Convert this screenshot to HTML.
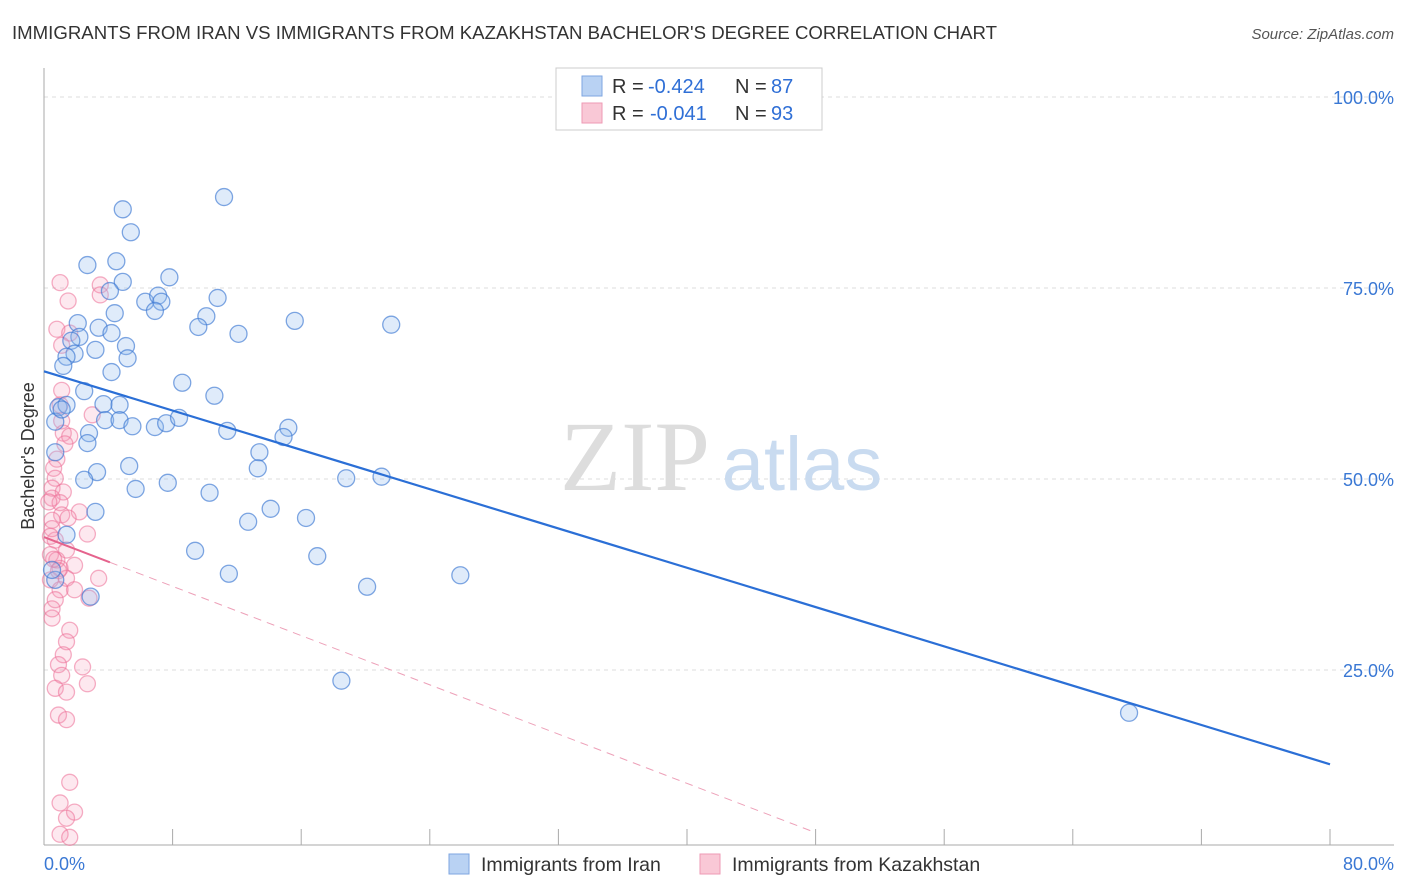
<!DOCTYPE html>
<html><head><meta charset="utf-8"><style>
body{margin:0;background:#fff;font-family:"Liberation Sans",sans-serif;}
svg{display:block}
</style></head><body>
<svg id="chart" width="1406" height="892">
<text x="12" y="39" font-size="18" fill="#333" textLength="985" lengthAdjust="spacingAndGlyphs">IMMIGRANTS FROM IRAN VS IMMIGRANTS FROM KAZAKHSTAN BACHELOR'S DEGREE CORRELATION CHART</text>
<text x="1394" y="39" font-size="15" fill="#555" text-anchor="end" font-style="italic">Source: ZipAtlas.com</text>
<g id="grid"></g>
<text x="635" y="490" font-size="100" fill="#ddd" text-anchor="middle" font-family="Liberation Serif,serif">ZIP</text>
<text x="802" y="490" font-size="76" fill="#c9dbf0" text-anchor="middle">atlas</text>
<g id="marks"></g>
<text transform="translate(34,456) rotate(-90)" font-size="18" fill="#333" text-anchor="middle">Bachelor's Degree</text>
<text x="44" y="870" font-size="18" fill="#3a78d4">0.0%</text>
<text x="1394" y="870" font-size="18" fill="#3a78d4" text-anchor="end">80.0%</text>
<g>
<rect x="556" y="68" width="266" height="62" fill="#fff" stroke="#ccc"/>
<rect x="582" y="76" width="20" height="20" fill="#b9d2f3" stroke="#7ea6e0"/>
<rect x="582" y="103" width="20" height="20" fill="#f9c8d6" stroke="#ee9ab4"/>
<text x="612" y="93" font-size="20" fill="#333">R =</text>
<text x="648" y="93" font-size="20" fill="#2f6fd6">-0.424</text>
<text x="735" y="93" font-size="20" fill="#333">N =</text>
<text x="771" y="93" font-size="20" fill="#2f6fd6">87</text>
<text x="612" y="120" font-size="20" fill="#333">R =</text>
<text x="650" y="120" font-size="20" fill="#2f6fd6">-0.041</text>
<text x="735" y="120" font-size="20" fill="#333">N =</text>
<text x="771" y="120" font-size="20" fill="#2f6fd6">93</text>
</g>
<g>
<rect x="449" y="854" width="20" height="20" fill="#b9d2f3" stroke="#7ea6e0"/>
<text x="481" y="871" font-size="19.5" fill="#333">Immigrants from Iran</text>
<rect x="700" y="854" width="20" height="20" fill="#f9c8d6" stroke="#ee9ab4"/>
<text x="732" y="871" font-size="19.5" fill="#333">Immigrants from Kazakhstan</text>
</g>
</svg>
<script>
const yTicks=[25,50,75,100];
const yTickLabels=["25.0%","50.0%","75.0%","100.0%"];
const iranX=[11.2,4.9,5.4,2.7,4.5,7.8,4.9,4.1,6.3,7.1,7.3,10.8,6.9,4.4,10.1,15.6,21.6,9.6,2.1,3.4,4.2,12.1,2.2,1.7,5.1,3.2,1.9,1.4,5.2,1.2,4.2,8.6,2.5,10.6,0.9,3.7,4.7,1.4,0.7,3.8,4.7,5.5,6.9,7.6,8.4,11.4,15.2,14.9,2.8,2.7,0.7,5.3,13.4,13.3,3.3,2.5,18.8,21.0,7.7,5.7,10.3,3.2,16.3,14.1,12.7,1.4,9.4,17.0,11.5,25.9,20.1,2.9,18.5,67.5,0.7,0.5,1.1];
const iranY=[86.9,85.3,82.3,78.0,78.5,76.4,75.8,74.6,73.2,74.0,73.2,73.7,72.0,71.7,71.3,70.7,70.2,69.9,70.4,69.8,69.1,69.0,68.6,68.1,67.4,66.9,66.4,66.0,65.8,64.8,64.0,62.6,61.5,60.9,59.4,59.8,59.7,59.7,57.5,57.7,57.7,56.9,56.8,57.3,58.0,56.3,56.7,55.5,56.0,54.7,53.5,51.7,53.5,51.4,50.9,49.9,50.1,50.3,49.5,48.7,48.2,45.7,44.9,46.1,44.4,42.7,40.6,39.9,37.6,37.4,35.9,34.6,23.6,19.4,36.8,38.1,59.1];
const kazX=[1.0,1.5,3.5,3.5,0.8,1.6,1.1,1.1,1.0,3.0,1.1,1.2,1.6,1.3,0.8,0.6,0.7,0.5,1.2,0.5,1.0,2.2,1.1,0.5,1.5,2.7,0.7,1.4,0.4,0.8,1.0,1.9,0.4,3.4,1.4,1.0,1.9,2.8,0.7,0.5,1.6,1.4,1.2,2.4,0.9,1.1,2.7,0.7,1.4,0.9,1.4,1.6,1.0,1.9,1.4,1.0,1.6,0.5,0.3,0.4,0.9,0.6,0.5];
const kazY=[75.7,73.3,75.4,74.1,69.6,69.1,67.5,61.6,59.7,58.4,57.6,56.0,55.6,54.6,52.6,51.4,50.1,48.8,48.3,47.5,46.9,45.7,45.3,44.6,44.9,42.8,42.0,40.7,40.1,39.4,38.3,38.7,36.8,37.0,37.0,35.5,35.5,34.4,34.2,31.8,30.2,28.7,27.0,25.4,25.7,24.3,23.2,22.6,22.1,19.1,18.5,10.3,7.6,6.4,5.6,3.5,3.1,43.5,47.0,42.5,38.0,39.5,33.0];
const iranTrend=[64.1,-0.643];
const kazTrend=[42.4,-0.806];
const kazDashEnd=48;
const xs=v=>44+v/80*1286, ys=v=>861-v*7.64;
const NS="http://www.w3.org/2000/svg";
const grid=document.getElementById('grid'), marks=document.getElementById('marks');
function mk(tag,attrs,parent){const e=document.createElementNS(NS,tag);for(const k in attrs)e.setAttribute(k,attrs[k]);parent.appendChild(e);return e;}
yTicks.forEach((t,i)=>{
 const l=mk('line',{x1:44,x2:1394,y1:ys(t),y2:ys(t),stroke:'#ddd','stroke-dasharray':'4,4'},grid);
 
 
 const tx=mk('text',{x:1394,y:ys(t)+7,'font-size':18,fill:'#3a78d4','text-anchor':'end'},grid);
 tx.textContent=yTickLabels[i];
 
 
});
const ax=mk('line',{x1:44,x2:44,y1:68,y2:845,stroke:'#aaa'},grid);


const bx=mk('line',{x1:44,x2:1394,y1:845,y2:845,stroke:'#aaa'},grid);


for(let k=1;k<=10;k++){const t=mk('line',{x1:xs(k*8),x2:xs(k*8),y1:829,y2:845,stroke:'#aaa'},grid);
 
 }
kazX.forEach((x,i)=>{const c=mk('circle',{cx:xs(x),cy:ys(kazY[i]),r:8,fill:'rgba(244,150,180,0.22)',stroke:'rgba(236,110,150,0.55)','stroke-width':1.3},marks);
 
 });
iranX.forEach((x,i)=>{const c=mk('circle',{cx:xs(x),cy:ys(iranY[i]),r:8.5,fill:'rgba(150,190,240,0.3)',stroke:'rgba(60,120,210,0.65)','stroke-width':1.3},marks);
 
 });
const il=mk('line',{x1:xs(0),y1:ys(iranTrend[0]),x2:xs(80),y2:ys(iranTrend[0]+80*iranTrend[1]),stroke:'#2b6fd6','stroke-width':2.2},marks);


const kl=mk('line',{x1:xs(0),y1:ys(kazTrend[0]),x2:xs(4.1),y2:ys(kazTrend[0]+4.1*kazTrend[1]),stroke:'#e5638d','stroke-width':2},marks);


const kd=mk('line',{x1:xs(4.1),y1:ys(kazTrend[0]+4.1*kazTrend[1]),x2:xs(kazDashEnd),y2:ys(kazTrend[0]+kazDashEnd*kazTrend[1]),stroke:'#eda0b8','stroke-width':1,'stroke-dasharray':'8,6'},marks);


</script>
</body></html>
